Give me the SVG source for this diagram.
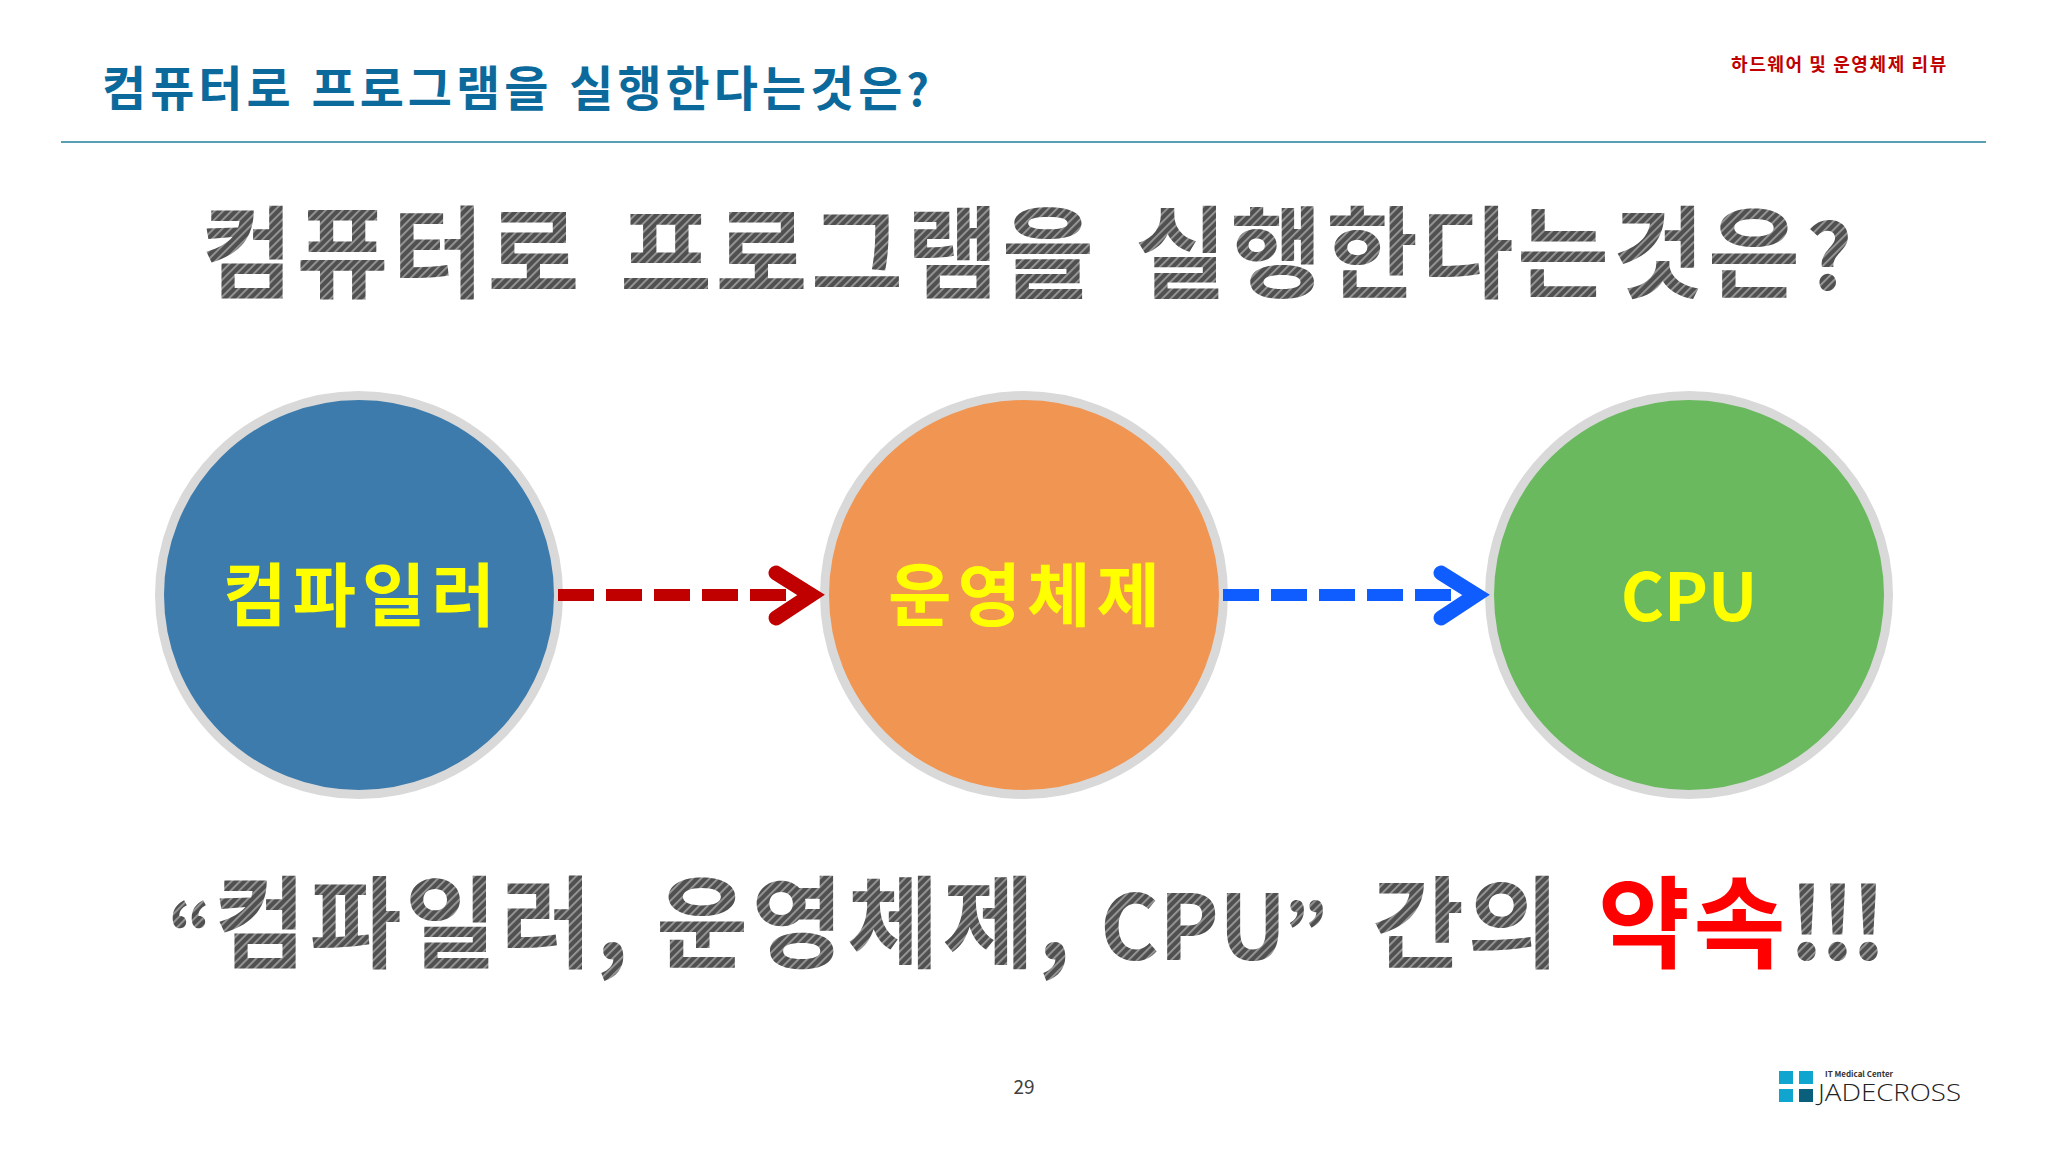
<svg xmlns="http://www.w3.org/2000/svg" width="2048" height="1152" viewBox="0 0 2048 1152">
<style>
text{font-family:"Noto Sans CJK KR","Noto Sans",sans-serif;font-weight:700}
.big{font-size:100px;fill:url(#hatch);letter-spacing:3.5px}
.lbl{font-size:69px;fill:#ffff00;text-anchor:middle;letter-spacing:6px}
.ring{stroke:#d9d9d9;stroke-width:9}
.dash{stroke-width:12;stroke-dasharray:36 12;fill:none}
.head{stroke-width:15;stroke-linecap:round;stroke-linejoin:miter;fill:none}
</style>
<defs>
<pattern id="hatch" width="6" height="6" patternUnits="userSpaceOnUse" patternTransform="rotate(-45)">
<rect width="6" height="6" fill="#505050"/><rect width="6" height="1.8" fill="#9a9a9a"/>
</pattern>
</defs>
<rect width="2048" height="1152" fill="#ffffff"/>
<text x="102" y="106" font-size="48" fill="#0b6a9b" letter-spacing="4" word-spacing="2">컴퓨터로 프로그램을 실행한다는것은<tspan font-size="44" letter-spacing="0">?</tspan></text>
<text x="1731" y="71" font-size="18" fill="#c00000" letter-spacing="1.6">하드웨어 및 운영체제 리뷰</text>
<line x1="61" y1="142" x2="1986" y2="142" stroke="#1f7f99" stroke-width="1.5"/>
<text class="big" y="290"><tspan x="201">컴퓨터로</tspan><tspan x="620">프로그램을</tspan><tspan x="1135">실행한다는것은</tspan><tspan x="1806" font-size="90">?</tspan></text>
<g id="node-compiler"><circle class="ring" cx="359" cy="595" r="199.5" fill="#3c7bab"/><text class="lbl" x="362" y="621">컴파일러</text></g>
<g id="node-os"><circle class="ring" cx="1024" cy="595" r="199.5" fill="#f09552"/><text class="lbl" x="1027" y="621">운영체제</text></g>
<g id="node-cpu"><circle class="ring" cx="1689" cy="595" r="199.5" fill="#6ab95f"/><text class="lbl" x="1689" y="621" style="font-size:66px;letter-spacing:0">CPU</text></g>
<g id="connectors">
<line class="dash" x1="558" y1="595" x2="788" y2="595" stroke="#c00000"/>
<polyline class="head" points="776,573 811,595 776,618" stroke="#c00000"/>
<line class="dash" x1="1223" y1="595" x2="1453" y2="595" stroke="#0f5cff"/>
<polyline class="head" points="1441,573 1476,595 1441,618" stroke="#0f5cff"/>
</g>
<text class="big" y="960"><tspan x="168" letter-spacing="0" font-size="76">“</tspan><tspan x="214">컴파일러,</tspan><tspan x="656">운영체제,</tspan><tspan x="1100" font-size="90" letter-spacing="0">CPU</tspan><tspan x="1284" font-size="76" letter-spacing="0">”</tspan><tspan x="1372">간의</tspan><tspan x="1598" fill="#ff0000">약속</tspan><tspan x="1788" letter-spacing="-6">!!!</tspan></text>
<text x="1024" y="1094" font-size="19" text-anchor="middle" fill="#404040" style="font-weight:400">29</text>
<g id="logo">
<rect x="1779" y="1071" width="14" height="13" fill="#10a5cf"/>
<rect x="1799" y="1071" width="14" height="13" fill="#10a5cf"/>
<rect x="1779" y="1089" width="14" height="13" fill="#10a5cf"/>
<rect x="1799" y="1089" width="14" height="13" fill="#0a5f7c"/>
<text x="1825" y="1077" font-size="8" fill="#333333">IT Medical Center</text>
<text x="1818" y="1101" font-size="24" fill="#222222" textLength="143" lengthAdjust="spacingAndGlyphs" style="font-weight:300;font-family:'Open Sans','Noto Sans',sans-serif">JADECROSS</text>
</g>
</svg>
